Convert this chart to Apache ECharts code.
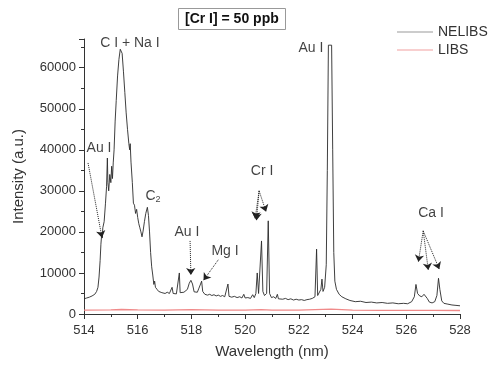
<!DOCTYPE html>
<html>
<head>
<meta charset="utf-8">
<script src="https://cdn.jsdelivr.net/npm/echarts@6/dist/echarts.min.js"></script>
<style>html,body{margin:0;padding:0;background:#fff}#c{width:490px;height:368px}</style>
</head>
<body>
<div id="c"></div>
<script>
// Wavelength (nm) / intensity (a.u.) of the NELIBS spectrum
var nelibsWl = [514.00,514.10,514.20,514.30,514.40,514.47,514.52,514.56,514.60,514.63,514.66,514.68,514.70,514.75,514.80,514.84,514.87,514.89,514.92,514.96,515.00,515.03,515.06,515.09,515.12,515.16,515.20,515.25,515.30,515.35,515.38,515.42,515.47,515.52,515.57,515.62,515.67,515.70,515.72,515.75,515.80,515.84,515.88,515.92,515.96,516.00,516.04,516.08,516.12,516.16,516.20,516.25,516.30,516.36,516.40,516.44,516.48,516.52,516.56,516.60,516.63,516.66,516.72,516.78,516.84,516.90,516.96,517.02,517.10,517.18,517.24,517.28,517.32,517.38,517.44,517.50,517.55,517.58,517.65,517.72,517.78,517.85,517.92,517.98,518.04,518.10,518.16,518.22,518.28,518.34,518.38,518.42,518.46,518.50,518.60,518.68,518.76,518.84,518.92,519.00,519.08,519.16,519.24,519.30,519.36,519.40,519.50,519.60,519.70,519.80,519.88,519.95,520.00,520.10,520.20,520.28,520.34,520.40,520.45,520.50,520.55,520.61,520.66,520.72,520.80,520.86,520.91,520.98,521.06,521.14,521.20,521.24,521.30,521.40,521.50,521.60,521.70,521.80,521.90,522.00,522.10,522.20,522.30,522.40,522.50,522.60,522.66,522.70,522.76,522.82,522.86,522.90,522.96,523.02,523.06,523.10,523.22,523.26,523.30,523.34,523.40,523.50,523.60,523.75,523.90,524.10,524.30,524.50,524.70,524.90,525.10,525.30,525.50,525.70,525.90,526.05,526.20,526.30,526.36,526.42,526.50,526.58,526.66,526.72,526.78,526.86,526.96,527.06,527.14,527.20,527.25,527.32,527.40,527.55,527.70,527.85,528.00];
var nelibsInt = [3700,3900,4100,4400,4800,5500,6500,9000,13000,17000,19500,18500,21000,22500,27000,31000,38000,32000,30000,34000,32000,36000,33000,37000,40000,47000,52000,58000,62000,64500,64700,63500,59000,54000,49000,45000,41500,40000,41500,37000,32000,27000,26500,24500,25500,23500,22000,21000,20000,18800,20200,22500,24500,26000,24000,20000,15000,11500,9500,7200,8000,6500,6000,5500,5800,5200,5400,5000,5300,5000,5400,6500,5000,5200,4900,5100,10000,5200,5000,5300,5000,6000,7500,8200,7300,5400,5000,5300,6300,7300,8000,5500,5600,4800,4600,4800,4500,4700,4400,4600,4300,4500,4200,4400,7300,4300,4100,4300,4000,4200,3900,4800,3900,4000,3800,4700,4000,5000,10000,5000,4800,17800,5500,4500,5000,22700,5000,4000,4200,3800,4800,3700,3900,3600,3800,3500,3700,3400,3600,3400,3500,3300,3500,3600,3800,4200,15800,4500,4800,6000,8500,5500,6500,12000,35000,65500,65500,40000,15000,8000,6000,4800,4200,3700,3300,3000,3100,2800,2900,2700,2800,2600,2700,2500,2600,2500,3000,4200,7200,5000,4400,4200,4800,5200,3800,2900,2700,3000,4500,8700,6000,3200,2600,2400,2200,2100,2000];

// LIBS spectrum
var libsWl = [514.0,515.0,515.4,516.0,517.0,518.0,519.0,520.0,520.6,521.0,522.0,523.2,524.0,525.0,526.0,527.0,528.0];
var libsInt = [950,1000,1100,1000,950,1050,950,950,1050,950,950,1200,950,900,900,900,850];

var xTicks = [514,516,518,520,522,524,526,528];
var yTicks = [0,10000,20000,30000,40000,50000,60000];

// Annotation labels [wavelength, intensity, text]
var annoText = [
  [515.71, 66000, 'C I + Na I'],
  [514.56, 40400, 'Au I'],
  [516.57, 28800, 'C{s|2}'],
  [517.83, 20000, 'Au I'],
  [519.25, 15400, 'Mg I'],
  [520.63, 34900, 'Cr I'],
  [522.45, 64700, 'Au I'],
  [526.92, 24600, 'Ca I']
];
// Annotation arrows [x0, y0, x1, y1]
var arrows = [
  [514.15, 36800, 514.67, 18600],
  [517.95, 17800, 517.98, 9500],
  [519.00, 13200, 518.45, 8200],
  [520.52, 30000, 520.37, 23200],
  [520.52, 30000, 520.42, 22800],
  [520.52, 30000, 520.78, 24900],
  [526.63, 20250, 526.45, 12700],
  [526.63, 20250, 526.82, 10700],
  [526.63, 20250, 527.23, 10900]
];

var FONT = 'Liberation Sans, Arial, sans-serif';
function zip(a, b) { return a.map(function (v, i) { return [v, b[i]]; }); }

var chart = echarts.init(document.getElementById('c'), null, {renderer: 'canvas'});
chart.setOption({
  animation: false,
  backgroundColor: '#fff',
  textStyle: {fontFamily: FONT},
  title: {
    text: '[Cr I] = 50 ppb',
    left: 178, top: 8,
    padding: [4, 7, 4, 7],
    borderColor: '#999', borderWidth: 1,
    textStyle: {fontFamily: FONT, fontSize: 14, fontWeight: 'bold', color: '#111'}
  },
  legend: {
    orient: 'vertical', left: 392, top: 20, itemGap: 4,
    itemWidth: 36, itemHeight: 10,
    textStyle: {fontFamily: FONT, fontSize: 14, color: '#333'},
    data: [
      {name: 'NELIBS', icon: 'path://M0,0 L40,0 L40,1 L0,1 Z', itemStyle: {color: '#999'}},
      {name: 'LIBS', icon: 'path://M0,0 L40,0 L40,1 L0,1 Z', itemStyle: {color: '#f2a0a0'}}
    ]
  },
  grid: {left: 84, right: 30, top: 39, bottom: 54},
  xAxis: {
    type: 'value', min: 514, max: 528, interval: 2,
    name: 'Wavelength (nm)', nameLocation: 'middle', nameGap: 30,
    nameTextStyle: {fontFamily: FONT, fontSize: 15, color: '#333'},
    axisLine: {lineStyle: {color: '#333'}},
    axisTick: {length: 5, lineStyle: {color: '#333'}},
    minorTick: {show: true, splitNumber: 2, length: 3, lineStyle: {color: '#333'}},
    axisLabel: {fontFamily: FONT, fontSize: 13, color: '#333', margin: 10,
      formatter: function (v) { return xTicks.indexOf(v) >= 0 ? String(v) : ''; }},
    splitLine: {show: false}
  },
  yAxis: {
    type: 'value', min: 0, max: 67000, interval: 10000,
    name: 'Intensity (a.u.)', nameLocation: 'middle', nameGap: 58,
    nameTextStyle: {fontFamily: FONT, fontSize: 15, color: '#333'},
    axisLine: {show: true, lineStyle: {color: '#333'}},
    axisTick: {show: true, length: 5, lineStyle: {color: '#333'}},
    minorTick: {show: true, splitNumber: 2, length: 3, lineStyle: {color: '#333'}},
    axisLabel: {fontFamily: FONT, fontSize: 13, color: '#333', margin: 8, showMaxLabel: false,
      formatter: function (v) { return yTicks.indexOf(v) >= 0 ? String(v) : ''; }},
    splitLine: {show: false}
  },
  series: [
    {
      name: 'LIBS', type: 'line', symbol: 'none', z: 2,
      lineStyle: {color: '#f08a8a', width: 1.3},
      itemStyle: {color: '#f08a8a'},
      data: zip(libsWl, libsInt)
    },
    {
      name: 'NELIBS', type: 'line', symbol: 'none', z: 3,
      lineStyle: {color: '#2a2a2a', width: 0.9},
      itemStyle: {color: '#2a2a2a'},
      data: zip(nelibsWl, nelibsInt)
    },
    {
      name: 'annotations', type: 'scatter', symbolSize: 0, z: 5, silent: true,
      label: {
        show: true, position: 'inside', fontFamily: FONT, fontSize: 14, color: '#111',
        formatter: function (p) { return p.data[2]; },
        rich: {s: {fontFamily: FONT, fontSize: 9, color: '#111', verticalAlign: 'bottom', padding: [8, 0, 0, 0]}}
      },
      data: annoText,
      markLine: {
        silent: true, animation: false,
        symbol: ['none', 'arrow'], symbolSize: 7,
        label: {show: false},
        lineStyle: {color: '#222', type: 'dotted', width: 1},
        data: arrows.map(function (a) { return [{coord: [a[0], a[1]]}, {coord: [a[2], a[3]]}]; })
      }
    }
  ]
});
</script>
</body>
</html>
